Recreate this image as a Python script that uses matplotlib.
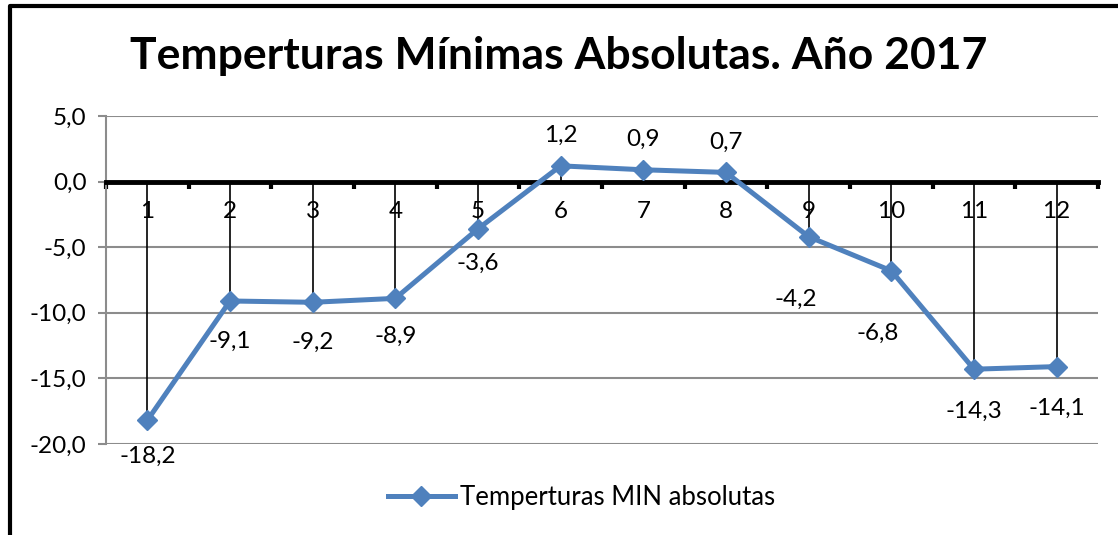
import numpy as np
import matplotlib
matplotlib.use("Agg")
from matplotlib import pyplot as plt
from matplotlib.lines import Line2D

plt.rcParams['font.family'] = ['Lato', 'DejaVu Sans']

months = [1, 2, 3, 4, 5, 6, 7, 8, 9, 10, 11, 12]
temp_min = [-18.2, -9.1, -9.2, -8.9, -3.6, 1.2, 0.9, 0.7, -4.2, -6.8, -14.3, -14.1]
title = "Temperturas Mínimas Absolutas. Año 2017"
series_name = "Temperturas MIN absolutas"
yticks = [5, 0, -5, -10, -15, -20]

# label offsets in points (dx, dy)
label_off = [(0, -26), (0, -29), (0, -29), (0, -27), (0, -25), (0, 22), (0, 22), (0, 22),
             (-9, -45), (-10, -45), (0, -30), (0, -30)]

blue = "#4F81BD"
fs = 17.5

fig = plt.figure(figsize=(11.18, 5.35), dpi=100)
ax = fig.add_axes([0.0948, 0.1701, 0.8873, 0.6131])

x = np.array(months)
ax.vlines(x, 0, temp_min, color="black", lw=1.2, zorder=2)
ax.plot(x, temp_min, color=blue, lw=3.6, marker="D", ms=10, zorder=4,
        label=series_name)

for xi, yi, (dx, dy) in zip(x, temp_min, label_off):
    ax.annotate(f"{yi:.1f}".replace(".", ","), (xi, yi), xytext=(dx, dy),
                textcoords="offset points", ha="center", va="center",
                fontsize=fs, zorder=5)

ax.set_xlim(0.5, 12.5)
ax.set_ylim(-20, 5)
ax.set_yticks(yticks)
ax.set_yticklabels([f"{v:.1f}".replace(".", ",") for v in yticks], fontsize=fs)
ax.yaxis.grid(True, color="#8c8c8c", lw=1.5)
ax.set_axisbelow(True)
ax.tick_params(axis="y", length=6, width=1.5, color="#8c8c8c", pad=8)

ax.spines["bottom"].set_position(("data", 0))
ax.spines["bottom"].set_linewidth(3.5)
ax.spines["bottom"].set_zorder(3)
ax.spines["left"].set_color("#8c8c8c")
ax.spines["left"].set_linewidth(1.5)
ax.spines["top"].set_visible(False)
ax.spines["right"].set_visible(False)

ax.set_xticks(np.arange(0.5, 13, 1))
ax.set_xticklabels([])
ax.tick_params(axis="x", which="major", direction="out", length=5, width=3, color="black")
ax.set_xticks(x, minor=True)
ax.set_xticklabels([str(m) for m in months], minor=True, fontsize=fs)
ax.tick_params(axis="x", which="minor", length=0, pad=14)

fig.text(0.5, 0.895, title, ha="center", va="center", fontsize=32, fontweight="bold")

fig.legend(loc="center", bbox_to_anchor=(0.52, 0.071), frameon=False, fontsize=18.5,
           handlelength=2.6, handletextpad=0.2)

# border on left and top
fig.add_artist(Line2D([0.009, 0.009, 1.0], [0.0, 0.989, 0.989], color="black", lw=3,
                      transform=fig.transFigure))

fig.savefig("out.png", dpi=100)
